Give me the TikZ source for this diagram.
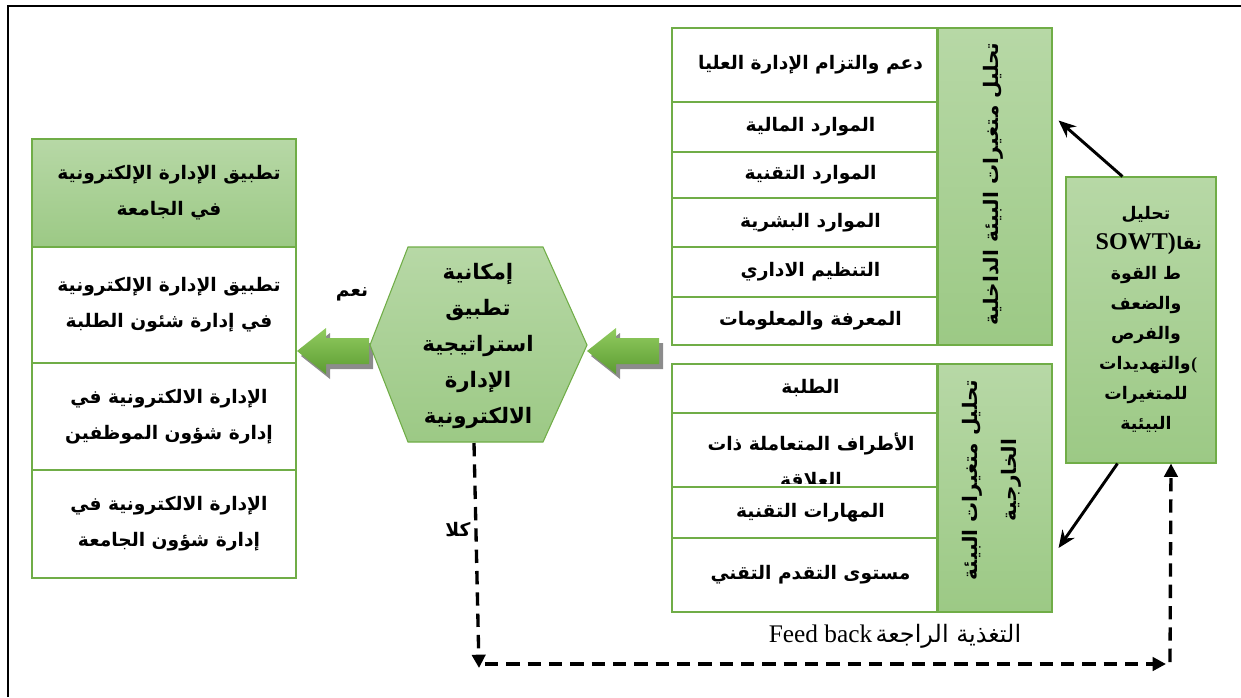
\documentclass[tikz,border=0pt]{standalone}
\usepackage{fontspec}
\setmainfont{Liberation Serif}
\newfontfamily\arabicfont[Script=Arabic]{DejaVu Sans}
\TeXXeTstate=1
\usetikzlibrary{fit,arrows.meta,calc}
\definecolor{gborder}{RGB}{112,173,71}
\definecolor{gtop}{RGB}{183,216,166}
\definecolor{gbot}{RGB}{156,201,133}
\definecolor{atop}{RGB}{146,204,96}
\definecolor{abot}{RGB}{92,156,50}
\newcommand\ar[1]{{\arabicfont\bfseries\beginR #1\endR}}
\newcommand\arr[1]{{\arabicfont\beginR #1\endR}}
\newcommand\artxt{\fontsize{14}{27}\selectfont}
\newcommand\bx[8]{\node[#2,fit={(#3,#4) (#5,#6)}] (#1) {};
  \node[lbl] (#1t) at ($(#1.center)+(#7,0)$) {#8};}
\begin{document}
\begin{tikzpicture}[x=0.75pt,y=-0.75pt,
  wbox/.style={draw=gborder,line width=2pt,fill=white,inner sep=0pt},
  gbox/.style={draw=gborder,line width=0.8pt,top color=gtop,bottom color=gbot,inner sep=0pt},
  lbl/.style={inner sep=0pt,align=center,font=\artxt},
  swl/.style={inner sep=0pt,font=\fontsize{13}{13}\selectfont},
  solidarr/.style={line width=2.2pt,-{Stealth[length=13pt,width=11pt]}},
  dasharr/.style={line width=2.5pt,dash pattern=on 10pt off 6pt,-{Triangle[length=10pt,width=10pt]}},
  blockarr/.style={top color=atop,bottom color=abot},
  arrshadow/.style={fill=black!45},
]
\useasboundingbox (0,0) rectangle (1241,697);
% outer frame
\draw[line width=2pt] (8,697) -- (8,6) -- (1241,6);

% internal environment panel
\bx{i1}{wbox}{672}{28}{937}{102}{6}{\ar{دعم والتزام الإدارة العليا}}
\bx{i2}{wbox}{672}{102}{937}{152}{6}{\ar{الموارد المالية}}
\bx{i3}{wbox}{672}{152}{937}{198}{6}{\ar{الموارد التقنية}}
\bx{i4}{wbox}{672}{198}{937}{247}{6}{\ar{الموارد البشرية}}
\bx{i5}{wbox}{672}{247}{937}{297}{6}{\ar{التنظيم الاداري}}
\bx{i6}{wbox}{672}{297}{937}{345}{6}{\ar{المعرفة والمعلومات}}
\bx{ingreen}{gbox}{938}{28}{1052}{345}{0}{}
\node[lbl,rotate=90,font=\fontsize{15}{27}\selectfont] (invt) at (993,184) {\ar{تحليل متغيرات البيئة الداخلية}};

% external environment panel
\bx{e1}{wbox}{672}{364}{937}{413}{6}{\ar{الطلبة}}
\bx{e2}{wbox}{672}{413}{937}{487}{0}{}
\begin{scope}
\clip (672,413) rectangle (937,483);
\node[lbl] (e2tx) at (811,460) {\ar{الأطراف المتعاملة ذات}\\\ar{العلاقة}};
\end{scope}
\bx{e3}{wbox}{672}{487}{937}{538}{6}{\ar{المهارات التقنية}}
\bx{e4}{wbox}{672}{538}{937}{612}{6}{\ar{مستوى التقدم التقني}}
\bx{exgreen}{gbox}{938}{364}{1052}{612}{0}{}
\node[lbl,rotate=90,align=center,font=\fontsize{15}{29}\selectfont] (exvt) at (992,480) {\ar{تحليل متغيرات البيئة}\\\ar{الخارجية}};

% SWOT box
\bx{swot}{gbox}{1066}{177}{1216}{463}{0}{}
\node[swl,anchor=base] (sw1) at (1146,219) {\ar{تحليل}};
\node[swl,anchor=base east,font=\fontsize{18}{18}\selectfont\bfseries] (sw2a) at (1176,249) {SOWT)};
\node[swl,anchor=base west] (sw2b) at (sw2a.base east) {\ar{نقا}};
\node[swl,anchor=base] (sw3) at (1146,279) {\ar{ط القوة}};
\node[swl,anchor=base] (sw4) at (1146,309) {\ar{والضعف}};
\node[swl,anchor=base] (sw5) at (1146,339) {\ar{والفرص}};
\node[swl,anchor=base east] (sw6a) at (1191,369) {\ar{والتهديدات}};
\node[swl,anchor=base west,font=\fontsize{13}{13}\selectfont\bfseries] (sw6b) at (sw6a.base east) {(};
\node[swl,anchor=base] (sw7) at (1146,399) {\ar{للمتغيرات}};
\node[swl,anchor=base] (sw8) at (1146,429) {\ar{البيئية}};

% left panel
\bx{lh}{gbox}{32}{139}{296}{247}{5}{\ar{تطبيق الإدارة الإلكترونية}\\\ar{في الجامعة}}
\bx{l1}{wbox}{32}{247}{296}{363}{5}{\ar{تطبيق الإدارة الإلكترونية}\\\ar{في إدارة شئون الطلبة}}
\bx{l2}{wbox}{32}{363}{296}{470}{5}{\ar{الإدارة الالكترونية في}\\\ar{إدارة شؤون الموظفين}}
\bx{l3}{wbox}{32}{470}{296}{578}{5}{\ar{الإدارة الالكترونية في}\\\ar{إدارة شؤون الجامعة}}

% block arrows
\fill[arrshadow] (591,356) -- (620,333) -- (620,343) -- (663,343) -- (663,369) -- (620,369) -- (620,379) -- cycle;
\shade[blockarr] (587,351) -- (616,328) -- (616,338) -- (659,338) -- (659,364) -- (616,364) -- (616,374) -- cycle;
\fill[arrshadow] (301,356) -- (330,333) -- (330,343) -- (373,343) -- (373,369) -- (330,369) -- (330,379) -- cycle;
\shade[blockarr] (297,351) -- (326,328) -- (326,338) -- (369,338) -- (369,364) -- (326,364) -- (326,374) -- cycle;

% hexagon
\path[draw=gborder,line width=0.8pt,top color=gtop,bottom color=gbot] (370,345) -- (408,247) -- (543,247) -- (587,345) -- (543,442) -- (408,442) -- cycle;
\node[lbl,font=\fontsize{16}{27}\selectfont] (hex) at (478,346) {\ar{إمكانية}\\\ar{تطبيق}\\\ar{استراتيجية}\\\ar{الإدارة}\\\ar{الالكترونية}};
\coordinate (hexB) at (474,443);

% labels
\node[lbl] (yes) at (352,294) {\ar{نعم}};
\node[lbl] (no) at (458,530) {\ar{كلا}};
\node[inner sep=0pt] (fb) at (895,636) {{\fontsize{19}{19}\selectfont Feed back} \arr{\fontsize{18}{18}\selectfont التغذية الراجعة}};

% SWOT arrows
\draw[solidarr] ($(swot.north west)+(57,0)$) -- ($(ingreen.east)+(6,-66)$);
\draw[solidarr] ($(swot.south west)+(52,0)$) -- ($(exgreen.east)+(6,60)$);

% feedback dashed loop
\coordinate (cBL) at (479,668);
\coordinate (cBR) at (1168,664);
\draw[dasharr] (hexB) -- (cBL);
\draw[dasharr] ($(cBL)+(6,-4)$) -- ($(cBR)+(-2,0)$);
\draw[dasharr] ($(cBR)+(2,-2)$) -- (swot.south -| {(1171,0)});
\end{tikzpicture}
\end{document}
